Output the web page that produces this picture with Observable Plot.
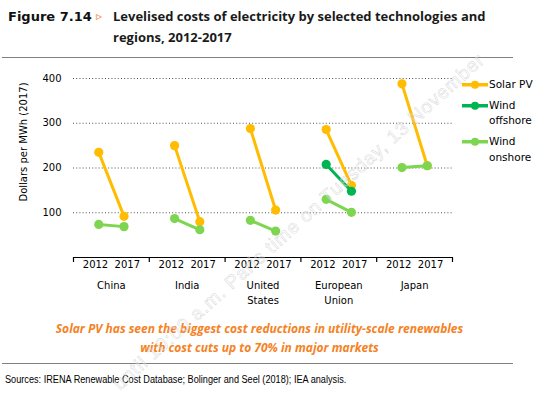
<!DOCTYPE html>
<html><head><meta charset="utf-8">
<script src="https://cdn.jsdelivr.net/npm/d3@7"></script>
<script src="https://cdn.jsdelivr.net/npm/@observablehq/plot@0.6"></script>
<style>
body{margin:0;background:#fff;width:559px;height:394px;position:relative;overflow:hidden;font-family:"DejaVu Sans",sans-serif}
.abs{position:absolute}
#fig{left:8px;top:9px;font:bold 13px "DejaVu Sans";color:#111;white-space:nowrap}
#tri{left:96px;top:9px;font:12px "DejaVu Sans";color:#F5821F}
#title{left:113px;top:6px;font:bold 13px "Open Sans";color:#1a1a1a;line-height:21px;white-space:nowrap}
.hr{left:2px;width:511px;height:0;border-top:1.5px solid #808080}
#chart{left:0;top:60px}
#ylabel{left:23px;top:142px;transform:translate(-50%,-50%) rotate(-90deg);font:10px "DejaVu Sans";white-space:nowrap;color:#000}
#legend{left:462px;top:76.5px;font:10.5px "DejaVu Sans";color:#000}
.item{display:flex;margin-bottom:5.5px}
.item span{line-height:15.5px}
#caption{left:0;width:519px;top:319px;text-align:center;font:italic bold 12px "Open Sans";color:#F5821F;line-height:19px}
#source{left:5px;top:374px;font:10px "Liberation Sans",sans-serif;color:#000;white-space:nowrap;transform:scaleX(0.915);transform-origin:left center}
#wm{left:0;top:0;pointer-events:none}
</style></head><body>
<div class="abs" id="fig">Figure 7.14</div>
<div class="abs" id="tri">▹</div>
<div class="abs" id="title">Levelised costs of electricity by selected technologies and<br>regions, 2012-2017</div>
<div class="abs hr" style="top:57px"></div>
<div class="abs" id="chart"></div>
<div class="abs" id="ylabel">Dollars per MWh (2017)</div>
<div class="abs" id="legend"></div>
<div class="abs" id="caption">Solar PV has seen the biggest cost reductions in utility-scale renewables<br>with cost cuts up to 70% in major markets</div>
<div class="abs hr" style="top:363px"></div>
<div class="abs" id="source">Sources: IRENA Renewable Cost Database; Bolinger and Seel (2018); IEA analysis.</div>
<svg class="abs" id="wm" width="559" height="394"><text x="120" y="391" transform="rotate(-42 120 391)" font-family="Liberation Sans" font-size="19" letter-spacing="0.9" fill="#ffffff" fill-opacity="0.35" stroke="#bdbdbd" stroke-width="0.45" stroke-opacity="0.7">until 10:00 a.m. Paris time on Tuesday, 13 November</text></svg>
<script>
const regions = ["China", "India", "United States", "European Union", "Japan"];
const regionLabels = ["China", "India", "United\nStates", "European\nUnion", "Japan"];
const years = [2012, 2017];
const techs = ["Solar PV", "Wind offshore", "Wind onshore"];
const techLabels = ["Solar PV", "Wind\noffshore", "Wind\nonshore"];
const colors = ["#FFBC00", "#00B451", "#7ED650"];
const yTicks = [100, 200, 300, 400];
// values per region: [2012, 2017]
const solarPV = [[235, 92], [250, 80], [288, 106], [286, 161], [388, 205]];
const windOffshore = [null, null, null, [208, 148], null];
const windOnshore = [[74, 69], [87, 62], [83, 59], [130, 101], [201, 205]];

const series = [solarPV, windOffshore, windOnshore];
const pointOffset = {2012: 1/3, 2017: 2/3};
const labelOffset = {2012: 0.29, 2017: 0.71};

const rows = [];
series.forEach((vals, t) => vals.forEach((pair, i) => {
  if (!pair) return;
  years.forEach((yr, k) => rows.push({tech: techs[t], region: regions[i], i, year: yr, value: pair[k]}));
}));
const yearRows = regions.flatMap((r, i) => years.map(yr => ({i, year: yr})));
const regionRows = regions.map((r, i) => ({i, label: regionLabels[i]}));

const marks = [
  Plot.gridY(yTicks, {stroke: "#555", strokeOpacity: 1, strokeDasharray: "1,2.2"}),
  Plot.axisY(yTicks, {tickSize: 0, tickPadding: 12, label: null, fontSize: 10}),
  Plot.ruleY([0], {stroke: "#000", strokeWidth: 1.2}),
  Plot.axisX(d3.range(regions.length + 1), {tickSize: 5, tickFormat: () => "", label: null, strokeWidth: 1.2}),
  Plot.text(yearRows, {x: d => d.i + labelOffset[d.year], text: d => String(d.year), frameAnchor: "bottom", dy: 10, fontSize: 10}),
  Plot.text(regionRows, {x: d => d.i + 0.5, text: "label", frameAnchor: "bottom", lineAnchor: "top", dy: 20.5, lineHeight: 1.5, fontSize: 10})
];
techs.forEach(t => {
  const data = rows.filter(d => d.tech === t);
  marks.push(Plot.line(data, {x: d => d.i + pointOffset[d.year], y: "value", z: "region", stroke: "tech", strokeWidth: 3}));
  marks.push(Plot.dot(data, {x: d => d.i + pointOffset[d.year], y: "value", fill: "tech", r: 4.6}));
});

const plot = Plot.plot({
  width: 559, height: 252,
  marginLeft: 73, marginRight: 107, marginTop: 18, marginBottom: 55,
  style: {fontFamily: "DejaVu Sans", fontSize: "10px", color: "#000", background: "transparent", overflow: "visible"},
  x: {type: "linear", domain: [0, regions.length], axis: null},
  y: {domain: [0, 400], axis: null},
  color: {domain: techs, range: colors},
  marks
});
document.getElementById("chart").appendChild(plot);

const legend = document.getElementById("legend");
techs.forEach((t, k) => {
  const item = document.createElement("div");
  item.className = "item";
  item.innerHTML = `<svg width="27" height="15.5" style="flex:none"><line x1="0" x2="26" y1="7.75" y2="7.75" stroke="${colors[k]}" stroke-width="3.5"/><circle cx="13" cy="7.75" r="4" fill="${colors[k]}"/></svg><span>${techLabels[k].replace("\n", "<br>")}</span>`;
  legend.appendChild(item);
});
</script>
</body></html>
